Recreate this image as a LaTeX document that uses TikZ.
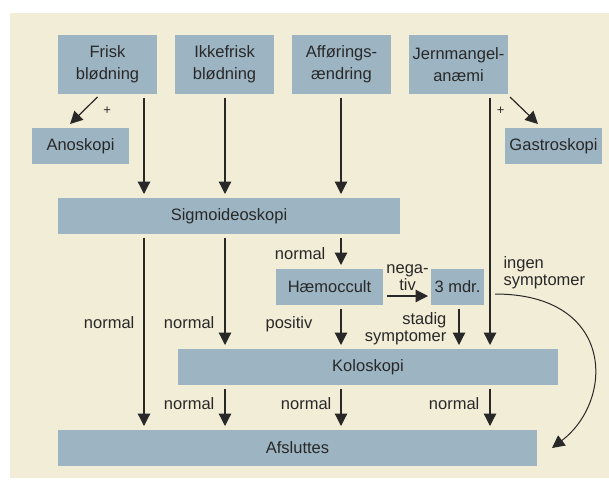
\documentclass[tikz,border=0pt]{standalone}
\usepackage{fontspec}
\setmainfont{Liberation Sans}
\usetikzlibrary{positioning,arrows.meta}
\definecolor{cream}{RGB}{242,237,214}
\definecolor{boxblue}{RGB}{157,181,195}
\definecolor{ink}{RGB}{40,40,40}
\tikzset{
  box/.style={fill=boxblue, text=ink, inner sep=0pt, outer sep=0pt, align=center,
    minimum height=36pt, font=\fontsize{16.5}{22}\selectfont},
  topbox/.style={box, minimum width=99pt, minimum height=59pt},
  diag/.style={draw=ink, line width=1.2pt, -{Triangle[length=12.5pt,width=12.5pt]}},
  arr/.style={diag, shorten <=3.5pt, shorten >=4pt},
  curv/.style={draw=ink, line width=1pt, -{Triangle[length=12.5pt,width=12.5pt]}},
  lbl/.style={text=ink, inner sep=0pt, align=center, font=\fontsize{16.5}{17}\selectfont},
  plus/.style={text=ink, inner sep=0pt, font=\fontsize{13}{14}\selectfont}
}
\begin{document}
\begin{tikzpicture}[x=1pt, y=-1pt]
  \useasboundingbox (0,0) rectangle (609,479);
  \fill[cream] (10,13) rectangle (609,478);

  % columns of the long arrows
  \coordinate (c1) at (144,0);
  \coordinate (c2) at (225,0);
  \coordinate (c3) at (341,0);
  \coordinate (c4) at (490,0);
  \coordinate (c5) at (459,0);

  \node[topbox] (frisk) at (107.5,64.5) {Frisk\\blødning};
  \node[topbox, right=18pt of frisk] (ikke) {Ikkefrisk\\blødning};
  \node[topbox, right=18pt of ikke] (affor) {Afførings-\\ændring};
  \node[topbox, right=18pt of affor] (jern) {Jernmangel-\\anæmi};

  \node[box, minimum width=97pt] (ano) at (80.5,146) {Anoskopi};
  \node[box, minimum width=97pt] (gastro) at (553.5,146) {Gastroskopi};
  \node[box, minimum width=342pt, anchor=north west] (sig) at (58,198) {Sigmoideoskopi};
  \node[box, minimum width=107pt, anchor=north west] (haem) at (276,269) {Hæmoccult};
  \node[box, minimum width=53pt, anchor=north west] (mdr) at (431,269) {3 mdr.};
  \node[box, minimum width=380pt, anchor=north west] (kolo) at (178,349) {Koloskopi};
  \node[box, minimum width=479pt, anchor=north west] (afsl) at (58,430) {Afsluttes};

  % + branches
  \draw[diag] ([xshift=-10pt,yshift=-3pt]frisk.south)
    -- node[plus, right=19pt] {+} ([xshift=-10.5pt,yshift=4pt]ano.north);
  \draw[diag] ([xshift=2pt,yshift=-3pt]jern.south east)
    -- node[plus, left=19pt] {+} ([xshift=-15.5pt,yshift=4pt]gastro.north);

  \draw[arr] (frisk.south -| c1) -- (sig.north -| c1);
  \draw[arr] (ikke.south -| c2) -- (sig.north -| c2);
  \draw[arr] (affor.south -| c3) -- (sig.north -| c3);
  \draw[arr] (jern.south -| c4) -- (kolo.north -| c4);

  \draw[arr] (sig.south -| c1) -- node[lbl, pos=.454, left=9pt] {normal} (afsl.north -| c1);
  \draw[arr] (sig.south -| c2) -- node[lbl, pos=.774, left=10pt] {normal} (kolo.north -| c2);
  \draw[arr] (sig.south -| c3) -- node[lbl, pos=.571, left=15pt] {normal} (haem.north -| c3);
  \draw[arr] (haem.south -| c3) -- node[lbl, pos=.43, left=28pt] {positiv} (kolo.north -| c3);
  \draw[arr] (mdr.south -| c5) -- node[lbl, align=right, pos=.55, left=12pt] {stadig\\symptomer} (kolo.north -| c5);

  \draw[diag] ([xshift=4pt,yshift=-9pt]haem.east)
    -- node[lbl, above=5pt] {nega-\\tiv} ([xshift=-3pt,yshift=-9pt]mdr.west);

  \draw[curv] ([xshift=11pt,yshift=-7pt]mdr.east)
    node[lbl, align=left, anchor=south west, xshift=8pt, yshift=5pt] {ingen\\symptomer}
    .. controls (615,294) and (615,400) .. ([xshift=15pt]afsl.east);

  \draw[arr] (kolo.south -| c2) -- node[lbl, pos=.42, left=10pt] {normal} (afsl.north -| c2);
  \draw[arr] (kolo.south -| c3) -- node[lbl, pos=.42, left=9pt] {normal} (afsl.north -| c3);
  \draw[arr] (kolo.south -| c4) -- node[lbl, pos=.42, left=10pt] {normal} (afsl.north -| c4);
\end{tikzpicture}
\end{document}
